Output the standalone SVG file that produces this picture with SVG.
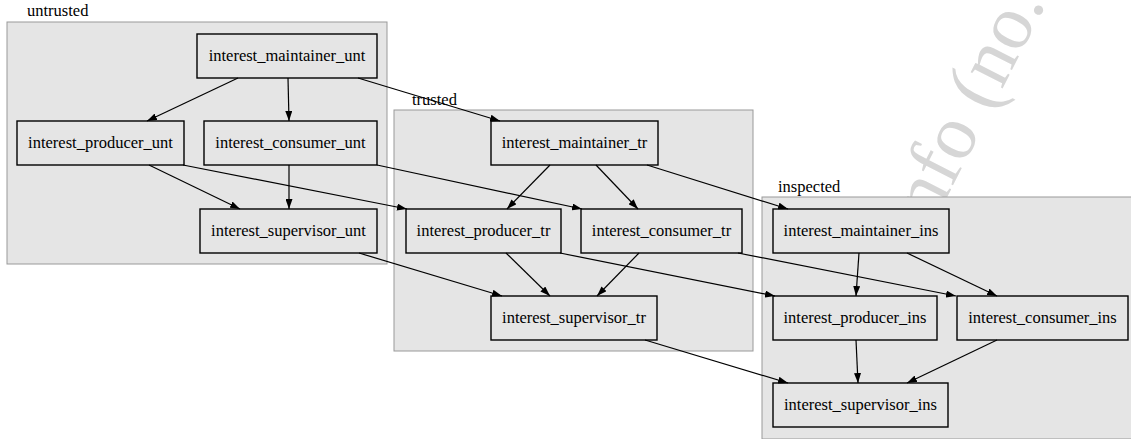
<svg xmlns="http://www.w3.org/2000/svg" width="1131" height="439" viewBox="0 0 1131 439" font-family="'Liberation Serif', 'Times New Roman', serif">
  <defs>
    <marker id="arrow" viewBox="0 0 10 7" refX="10" refY="3.5" markerUnits="userSpaceOnUse" markerWidth="10" markerHeight="7" orient="auto">
      <path d="M0,0 L10,3.5 L0,7 z" fill="#000"/>
    </marker>
    <style>
      .cluster { fill: #e5e5e5; stroke: #999999; stroke-width: 1; }
      .node rect { fill: none; stroke: #000; stroke-width: 1.4; }
      text { font-family: "Liberation Serif", "Times New Roman", serif; font-size: 16.5px; fill: #000; }
      .node text { text-anchor: middle; }
      .edges line { stroke: #000; stroke-width: 1.2; marker-end: url(#arrow); }
      .watermark { font-size: 78px; fill: #d6d6d6; text-anchor: end; }
    </style>
  </defs>
  <rect width="1131" height="439" fill="#fff"/>

  <!-- page stamp running diagonally behind the layers -->
  <text class="watermark" transform="translate(1046,3) rotate(-63)">info (no.</text>

  <!-- trust zones -->
  <g id="cluster_untrusted">
    <rect class="cluster" x="7" y="22" width="380" height="242"/>
    <text x="27" y="16">untrusted</text>
  </g>
  <g id="cluster_trusted">
    <rect class="cluster" x="394" y="110" width="359" height="241"/>
    <text x="412" y="105">trusted</text>
  </g>
  <g id="cluster_inspected">
    <rect class="cluster" x="762" y="197" width="372" height="242"/>
    <text x="778" y="192">inspected</text>
  </g>

  <!-- untrusted nodes -->
  <g id="interest_maintainer_unt" class="node">
    <rect x="197" y="34" width="180" height="44"/>
    <text x="287" y="61">interest_maintainer_unt</text>
  </g>
  <g id="interest_producer_unt" class="node">
    <rect x="17" y="121" width="167" height="44"/>
    <text x="100.5" y="148">interest_producer_unt</text>
  </g>
  <g id="interest_consumer_unt" class="node">
    <rect x="204" y="121" width="173" height="44"/>
    <text x="290.5" y="148">interest_consumer_unt</text>
  </g>
  <g id="interest_supervisor_unt" class="node">
    <rect x="200" y="209" width="177" height="44"/>
    <text x="288.5" y="236">interest_supervisor_unt</text>
  </g>

  <!-- trusted nodes -->
  <g id="interest_maintainer_tr" class="node">
    <rect x="491" y="121" width="167" height="44"/>
    <text x="574.5" y="148">interest_maintainer_tr</text>
  </g>
  <g id="interest_producer_tr" class="node">
    <rect x="406" y="209" width="155" height="44"/>
    <text x="483.5" y="236">interest_producer_tr</text>
  </g>
  <g id="interest_consumer_tr" class="node">
    <rect x="581" y="209" width="161" height="44"/>
    <text x="661.5" y="236">interest_consumer_tr</text>
  </g>
  <g id="interest_supervisor_tr" class="node">
    <rect x="491" y="296" width="166" height="44"/>
    <text x="574" y="323">interest_supervisor_tr</text>
  </g>

  <!-- inspected nodes -->
  <g id="interest_maintainer_ins" class="node">
    <rect x="773" y="209" width="176" height="44"/>
    <text x="861" y="236">interest_maintainer_ins</text>
  </g>
  <g id="interest_producer_ins" class="node">
    <rect x="773" y="296" width="164" height="44"/>
    <text x="855" y="323">interest_producer_ins</text>
  </g>
  <g id="interest_consumer_ins" class="node">
    <rect x="957" y="296" width="171" height="44"/>
    <text x="1042.5" y="323">interest_consumer_ins</text>
  </g>
  <g id="interest_supervisor_ins" class="node">
    <rect x="773" y="383" width="175" height="44"/>
    <text x="860.5" y="410">interest_supervisor_ins</text>
  </g>

  <!-- dependencies -->
  <g id="edges" class="edges">
    <line x1="238" y1="78" x2="147" y2="121"/>
    <line x1="288" y1="78" x2="289" y2="121"/>
    <line x1="149" y1="165" x2="240" y2="209"/>
    <line x1="289" y1="165" x2="289" y2="209"/>
    <line x1="183" y1="165" x2="407" y2="209"/>
    <line x1="377" y1="165" x2="582" y2="209"/>
    <line x1="358" y1="78" x2="500" y2="121"/>
    <line x1="359" y1="253" x2="502" y2="296"/>
    <line x1="550" y1="165" x2="507" y2="209"/>
    <line x1="596" y1="165" x2="638" y2="209"/>
    <line x1="506" y1="253" x2="550" y2="296"/>
    <line x1="639" y1="253" x2="597" y2="296"/>
    <line x1="647" y1="165" x2="788" y2="209"/>
    <line x1="560" y1="253" x2="775" y2="296"/>
    <line x1="738" y1="253" x2="956" y2="296"/>
    <line x1="645" y1="340" x2="788" y2="383"/>
    <line x1="859" y1="253" x2="856" y2="296"/>
    <line x1="907" y1="253" x2="997" y2="296"/>
    <line x1="856" y1="340" x2="858" y2="383"/>
    <line x1="997" y1="340" x2="907" y2="383"/>
  </g>
</svg>
